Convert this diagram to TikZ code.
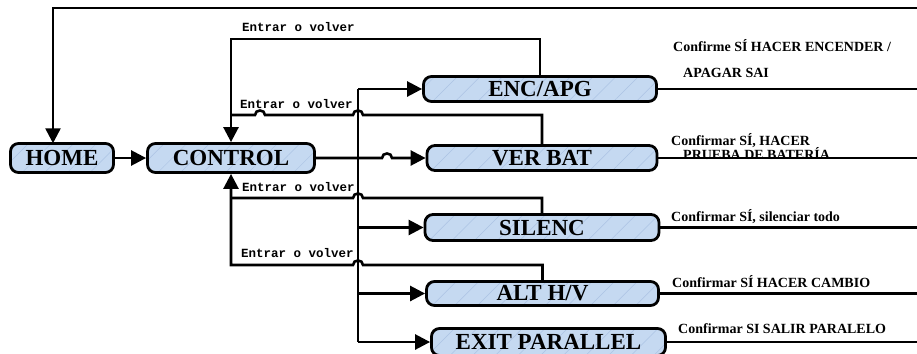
\documentclass[tikz,border=0pt]{standalone}
\usepackage{fontspec}
\setmainfont{Liberation Serif}
\newfontfamily\monof{Liberation Mono}
\usetikzlibrary{arrows.meta,patterns.meta}
\definecolor{boxblue}{RGB}{197,217,241}
\definecolor{stripe}{RGB}{172,195,228}
\begin{document}
\begin{tikzpicture}[x=1pt,y=-1pt,
  box/.style={draw, line width=2.8pt, rounded corners=8pt, preaction={fill=boxblue},
    pattern={Lines[angle=45,distance=16pt,line width=0.5pt]}, pattern color=stripe,
    font=\fontsize{23}{24}\selectfont\bfseries, inner sep=0pt, anchor=center},
  conn/.style={line width=2.6pt},
  arr/.style={-{Triangle[length=15pt,width=15pt]}},
  lab/.style={font=\fontsize{14}{15}\selectfont\bfseries, inner sep=0pt, anchor=base west},
  ev/.style={font=\monof\bfseries\fontsize{12.5}{13}\selectfont, inner sep=0pt, anchor=base west}]
\useasboundingbox (0,0) rectangle (917,353);
% boxes
\node[box, minimum width=103pt, minimum height=29pt] (HOME) at (62,158) {HOME};
\node[box, minimum width=167pt, minimum height=29pt] (CONTROL) at (231,158) {CONTROL};
\node[box, minimum width=233pt, minimum height=25pt] (ENC) at (540,89) {ENC/APG};
\node[box, minimum width=230pt, minimum height=25pt] (VER) at (542,158) {VER BAT};
\node[box, minimum width=234pt, minimum height=26pt] (SIL) at (542,227.5) {SILENC};
\node[box, minimum width=232pt, minimum height=24pt] (ALT) at (542.5,293.5) {ALT H/V};
\node[box, minimum width=234pt, minimum height=27pt] (EXIT) at (548.5,342) {EXIT PARALLEL};
% free ends
\coordinate (topR) at (917,8);
\coordinate (bt) at (358,89);
\coordinate (bb) at (358,342);
% top return line
\draw[conn,arr] (topR) -| ([xshift=-9pt]HOME.north);
% main flow
\draw[conn,arr] (HOME.east) -- (CONTROL.west);
\draw[conn,arr] (CONTROL.east) -- (382,158) .. controls (382,152) and (392,152) .. (392,158) -- (VER.west);
% bus
\draw[conn] (bt) -- (bb);
\draw[conn,arr] (bt) -- (ENC.west);
\draw[conn,arr] (SIL.west -| bt) -- (SIL.west);
\draw[conn,arr] (ALT.west -| bt) -- (ALT.west);
\draw[conn,arr] (bb) -- (EXIT.west);
% return lines
\draw[conn,arr] (ENC.north) |- (CONTROL.north |- 0,39) -- (CONTROL.north);
\draw[conn] (VER.north) |- (363,115) .. controls (363,109) and (353,109) .. (353,115)
  -- (265,115) .. controls (265,109) and (255,109) .. (255,115) -- (CONTROL.north |- 0,115);
\draw[conn] (SIL.north) |- (363,198) .. controls (363,192) and (353,192) .. (353,198)
  -- (CONTROL.south |- 0,198);
\draw[conn,arr] (ALT.north) |- (363,265) .. controls (363,259) and (353,259) .. (353,265)
  -- (CONTROL.south |- 0,265) -- (CONTROL.south);
% outputs to right
\draw[conn] (ENC.east) -- (ENC.east -| topR);
\draw[conn] (VER.east) -- (VER.east -| topR);
\draw[conn] (SIL.east) -- (SIL.east -| topR);
\draw[conn] (ALT.east) -- (ALT.east -| topR);
\draw[conn] (EXIT.east) -- (EXIT.east -| topR);
% labels
\node[ev] (ev1) at (242,31.5) {Entrar o volver};
\node[ev] (ev2) at (240,108) {Entrar o volver};
\node[ev] (ev3) at (242,191.5) {Entrar o volver};
\node[ev] (ev4) at (241,257.5) {Entrar o volver};
\node[lab] (l1) at (673,52) {Confirme SÍ HACER ENCENDER /};
\node[lab] (l2) at (683,77) {APAGAR SAI};
\node[lab] (l3) at (671,145) {Confirmar SÍ, HACER};
\node[lab] (l4) at (683,159) {PRUEBA DE BATERÍA};
\node[lab] (l5) at (671,221) {Confirmar SÍ, silenciar todo};
\node[lab] (l6) at (672,287.5) {Confirmar SÍ HACER CAMBIO};
\node[lab] (l7) at (678,333.5) {Confirmar SI SALIR PARALELO};
\end{tikzpicture}
\end{document}
